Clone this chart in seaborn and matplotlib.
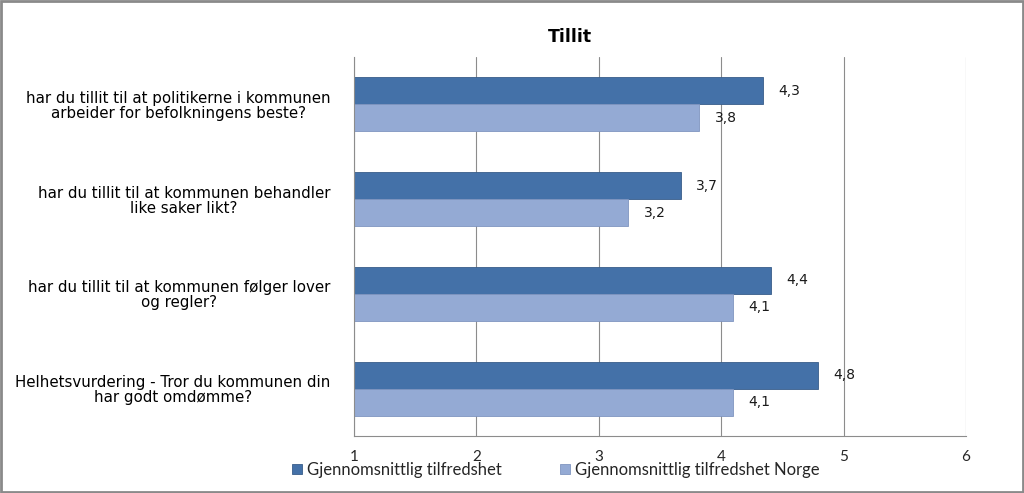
import matplotlib
matplotlib.use("Agg")
import matplotlib.pyplot as plt
import seaborn as sns
import pandas as pd
from matplotlib.patches import Rectangle

categories = [
    "har du tillit til at politikerne i kommunen\narbeider for befolkningens beste?",
    "har du tillit til at kommunen behandler\nlike saker likt?",
    "har du tillit til at kommunen følger lover\nog regler?",
    "Helhetsvurdering - Tror du kommunen din\nhar godt omdømme?",
]
series_names = ["Gjennomsnittlig tilfredshet", "Gjennomsnittlig tilfredshet Norge"]
values_local = [4.34, 3.67, 4.41, 4.79]
values_norge = [3.82, 3.24, 4.10, 4.10]
x_ticks = [1, 2, 3, 4, 5, 6]
title = "Tillit"

colors = ["#4471A8", "#94AAD4"]
edges = ["#385D8A", "#7F95C0"]

df = pd.DataFrame({
    "cat": categories * 2,
    "serie": [series_names[0]] * 4 + [series_names[1]] * 4,
    "val": values_local + values_norge,
})

sns.set_style("white")
plt.rcParams["font.family"] = ["DejaVu Sans"]

fig = plt.figure(figsize=(10.24, 4.93), dpi=100)
ax = fig.add_axes([354 / 1024, 1 - 436 / 493, (966 - 354) / 1024, (436 - 57) / 493])

sns.barplot(data=df, y="cat", x="val", hue="serie", orient="h",
            palette=colors, saturation=1, width=0.57, ax=ax, legend=False, gap=0)

for i, cont in enumerate(ax.containers):
    for bar in cont:
        bar.set_edgecolor(edges[i])
        bar.set_linewidth(0.6)
    vals = values_local if i == 0 else values_norge
    ax.bar_label(cont, labels=[f"{v:.1f}".replace(".", ",") for v in vals],
                 padding=11, fontsize=10, color="#1A1A1A")

ax.set_xlim(1, 6)
ax.set_xticks(x_ticks)
ax.set_xticklabels([str(t) for t in x_ticks], fontsize=11, family="Lato")
ax.set_ylabel("")
ax.set_xlabel("")
ax.set_yticks(range(4))
ax.set_yticklabels(categories, fontsize=10.8, multialignment="center",
                   color="#000000", linespacing=1.0)
ax.tick_params(axis="y", length=0, pad=17)
ax.tick_params(axis="x", length=4, color="#888888", pad=6, direction="out")
ax.grid(axis="x", color="#8C8C8C", linewidth=0.8)
ax.set_axisbelow(True)
for s in ["top", "right"]:
    ax.spines[s].set_visible(False)
for s in ["left", "bottom"]:
    ax.spines[s].set_color("#8C8C8C")
    ax.spines[s].set_linewidth(0.8)

fig.text(570 / 1024, 1 - 37 / 493, title, ha="center", va="center",
         fontsize=12.5, fontweight="bold", family="DejaVu Sans", color="#000000")

handles = [Rectangle((0, 0), 1, 1, facecolor=colors[i], edgecolor=edges[i], linewidth=0.6)
           for i in range(2)]
fig.legend(handles, series_names, loc="center", bbox_to_anchor=(556 / 1024, 1 - 470 / 493),
           ncol=2, frameon=False, handlelength=0.6, handleheight=0.6, handletextpad=0.3,
           columnspacing=3.5, prop={"family": "Lato", "size": 12})

fig.add_artist(Rectangle((0.001, 0.002), 0.998, 0.996, transform=fig.transFigure,
                         fill=False, edgecolor="#8A8A8A", linewidth=2))

fig.savefig("out.png", dpi=100)
